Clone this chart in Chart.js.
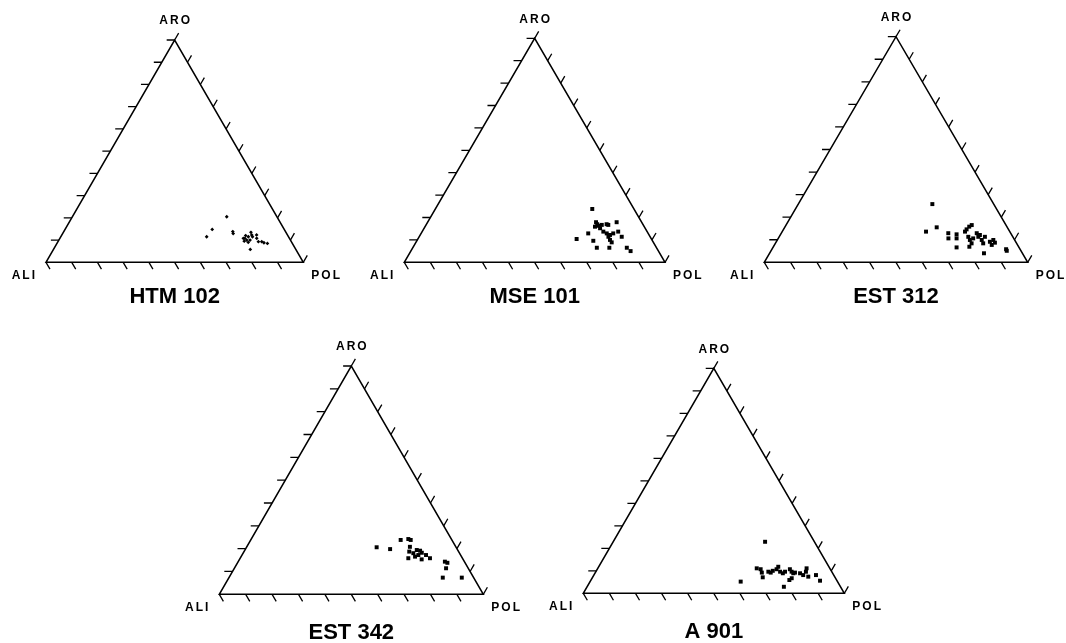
<!DOCTYPE html>
<html>
<head>
<meta charset="utf-8">
<script src="https://cdn.jsdelivr.net/npm/chart.js@4/dist/chart.umd.min.js"></script>
<style>
  html, body { margin: 0; padding: 0; background: #fff; width: 1066px; height: 643px; overflow: hidden; }
  body { position: relative; }
  canvas { position: absolute; }
</style>
</head>
<body>
<script>
// Oil fraction composition (%) of each sample: aromatics (ARO) and polars (POL).
// Aliphatics (ALI) make up the remainder: ALI = 100 - ARO - POL.
const SAMPLES = ['HTM 102', 'MSE 101', 'EST 312', 'EST 342', 'A 901'];
const CORNER_LABELS = ['ALI', 'ARO', 'POL'];
const TICK_VALUES = [0, 10, 20, 30, 40, 50, 60, 70, 80, 90, 100];

const HTM102_ARO = [20.5, 14.8, 11.5, 13.8, 12.9, 13.5, 12.3, 11.5, 10.8, 10.0, 10.0, 9.0, 10.8, 12.3, 10.8, 9.3, 9.3, 8.8, 8.5, 5.8, 9.5, 11.5, 12.0];
const HTM102_POL = [60.0, 57.2, 56.7, 65.7, 66.3, 72.9, 73.8, 72.9, 71.9, 73.0, 74.3, 74.1, 71.3, 75.7, 76.5, 77.9, 79.2, 80.3, 81.8, 76.5, 72.3, 74.5, 71.6];

const MSE101_ARO = [23.8, 17.9, 17.0, 15.9, 16.3, 15.2, 16.7, 17.0, 16.7, 13.7, 12.9, 12.2, 12.9, 11.4, 10.0, 8.9, 17.9, 13.7, 11.4, 12.9, 10.4, 9.6, 6.5, 6.5, 6.5, 5.0];
const MSE101_POL = [60.2, 64.6, 65.5, 65.2, 66.3, 67.5, 67.4, 69.1, 69.9, 69.5, 71.2, 72.8, 73.7, 72.6, 73.9, 75.1, 72.5, 75.2, 77.7, 64.1, 60.9, 67.7, 70.6, 75.4, 82.1, 84.3];

const EST312_ARO = [25.8, 13.6, 15.5, 12.9, 10.6, 12.4, 10.6, 13.6, 14.6, 15.8, 16.5, 11.3, 9.9, 8.4, 10.6, 12.9, 11.3, 12.1, 9.9, 8.4, 11.3, 9.1, 9.9, 8.7, 7.7, 6.6, 6.9, 4.0, 5.8, 5.1];
const EST312_POL = [50.9, 54.6, 57.7, 63.4, 64.6, 66.8, 67.7, 69.4, 69.5, 69.9, 70.5, 71.8, 73.1, 74.5, 74.0, 74.2, 75.6, 75.8, 77.6, 78.9, 78.1, 81.1, 82.0, 83.2, 82.5, 69.7, 74.4, 81.4, 88.9, 89.5];

const EST342_ARO = [20.6, 19.8, 23.8, 24.2, 23.8, 20.8, 18.7, 18.0, 19.4, 19.1, 18.2, 17.2, 16.5, 15.8, 15.3, 17.2, 15.8, 14.3, 13.8, 11.4, 7.3, 7.3];
const EST342_POL = [49.3, 54.8, 56.8, 59.5, 60.6, 61.8, 62.6, 64.5, 65.1, 66.5, 67.6, 66.8, 65.9, 63.7, 69.0, 69.7, 71.9, 78.3, 79.5, 80.2, 81.0, 88.2];

const A901_ARO = [22.9, 11.1, 10.7, 9.2, 7.1, 9.6, 9.2, 10.0, 10.7, 11.8, 9.6, 8.9, 9.6, 10.7, 9.6, 8.9, 6.7, 5.9, 9.2, 8.9, 8.1, 11.1, 9.6, 7.4, 8.1, 5.6, 5.2, 2.9];
const A901_POL = [58.2, 60.9, 62.6, 63.8, 65.2, 66.1, 67.2, 67.6, 68.7, 68.8, 70.6, 72.0, 72.5, 73.8, 75.0, 76.0, 76.5, 76.0, 76.5, 78.6, 80.2, 80.0, 80.5, 82.5, 85.1, 87.9, 57.7, 75.4];

const SAMPLE_ARO = [HTM102_ARO, MSE101_ARO, EST312_ARO, EST342_ARO, A901_ARO];
const SAMPLE_POL = [HTM102_POL, MSE101_POL, EST312_POL, EST342_POL, A901_POL];

// Page placement of each triangle: ALI corner x, base line y, side length, height, title offset below base
const PANELS = [
  { left: 46.0,  base: 262.3, width: 257.3, height: 222.3, titleGap: 35 },
  { left: 404.3, base: 262.3, width: 260.7, height: 224.0, titleGap: 35 },
  { left: 764.3, base: 262.3, width: 263.4, height: 225.6, titleGap: 35 },
  { left: 219.3, base: 594.3, width: 264.0, height: 228.3, titleGap: 39 },
  { left: 583.3, base: 593.3, width: 261.0, height: 225.0, titleGap: 39 }
];

const SIN60 = Math.sqrt(3) / 2;
const TICK_LEN = 3.1;           // tick length in composition units
const FONT = '"Liberation Sans", Arial, Helvetica, sans-serif';

// Barycentric (ARO, POL) -> plane coordinates, with ALI at the origin and POL at x = 100
function ternary(aro, pol) {
  return { x: pol + aro / 2, y: aro * SIN60 };
}

function frameData() {
  const a = ternary(0, 0), b = ternary(0, 100), c = ternary(100, 0);
  return [a, b, c, a, b];
}

function tickData() {
  const pts = [];
  const gap = { x: NaN, y: NaN };
  TICK_VALUES.filter(v => v < 100).forEach(v => {   // ALI-POL base, ticks parallel to the POL-ARO side
    const s = ternary(0, v);
    pts.push(s, { x: s.x + TICK_LEN * 0.5, y: s.y - TICK_LEN * SIN60 }, gap);
  });
  TICK_VALUES.filter(v => v > 0).forEach(v => {     // ALI-ARO side, horizontal ticks
    const s = ternary(v, 0);
    pts.push(s, { x: s.x - TICK_LEN, y: s.y }, gap);
  });
  TICK_VALUES.forEach(v => {                         // POL-ARO side, ticks parallel to the ALI-ARO side
    const s = ternary(v, 100 - v);
    pts.push(s, { x: s.x + TICK_LEN * 0.5, y: s.y + TICK_LEN * SIN60 }, gap);
  });
  return pts;
}

const labelPlugin = {
  id: 'ternaryLabels',
  afterDraw(chart, args, opts) {
    const { ctx, scales: { x, y } } = chart;
    const x0 = x.getPixelForValue(0), x50 = x.getPixelForValue(50), x100 = x.getPixelForValue(100);
    const yb = y.getPixelForValue(0), yt = y.getPixelForValue(100 * SIN60);
    ctx.save();
    ctx.fillStyle = '#000';
    ctx.textBaseline = 'middle';
    ctx.font = 'bold 12px ' + FONT;
    ctx.letterSpacing = '2px';
    ctx.textAlign = 'right';
    ctx.fillText(CORNER_LABELS[0], x0 - 9, yb + 13);
    ctx.textAlign = 'center';
    ctx.fillText(CORNER_LABELS[1], x50 + 1, yt - 19);
    ctx.textAlign = 'left';
    ctx.fillText(CORNER_LABELS[2], x100 + 8, yb + 13);
    ctx.letterSpacing = '0px';
    ctx.font = 'bold 22px ' + FONT;
    ctx.textAlign = 'center';
    ctx.fillText(opts.title, x50, yb + opts.titleGap);
    ctx.restore();
  }
};

SAMPLES.forEach((name, i) => {
  const p = PANELS[i];
  const padL = 60, padT = 40, padB = 60, padR = 60;
  const cLeft = Math.floor(p.left - padL);
  const cTop = Math.floor(p.base - p.height - padT);
  const cW = Math.ceil(p.width + padL + padR);
  const cH = Math.ceil(p.height + padT + padB);
  const canvas = document.createElement('canvas');
  canvas.width = cW; canvas.height = cH;
  canvas.style.left = cLeft + 'px'; canvas.style.top = cTop + 'px';
  canvas.style.width = cW + 'px'; canvas.style.height = cH + 'px';
  document.body.appendChild(canvas);

  const padding = {
    left: p.left - cLeft,
    top: (p.base - p.height) - cTop,
    right: cW - (p.left - cLeft) - p.width,
    bottom: cH - (p.base - cTop)
  };

  const points = SAMPLE_ARO[i].map((a, k) => ternary(a, SAMPLE_POL[i][k]));
  const small = i === 0;

  new Chart(canvas, {
    type: 'scatter',
    data: {
      datasets: [
        {
          data: points,
          pointStyle: small ? 'rectRot' : 'rect',
          pointRadius: small ? 1.9 : 2.8,
          backgroundColor: '#000',
          borderWidth: 0,
          clip: false
        },
        {
          data: frameData(),
          showLine: true,
          borderColor: '#000',
          borderWidth: 1.5,
          pointRadius: 0,
          borderJoinStyle: 'miter',
          clip: false
        },
        {
          data: tickData(),
          showLine: true,
          spanGaps: false,
          borderColor: '#000',
          borderWidth: 1.3,
          pointRadius: 0,
          clip: false
        }
      ]
    },
    options: {
      responsive: false,
      animation: false,
      events: [],
      devicePixelRatio: 1,
      layout: { padding },
      plugins: {
        legend: { display: false },
        tooltip: { enabled: false },
        ternaryLabels: { title: name, titleGap: p.titleGap }
      },
      scales: {
        x: { type: 'linear', min: 0, max: 100, display: false },
        y: { type: 'linear', min: 0, max: 100 * SIN60, display: false }
      }
    },
    plugins: [labelPlugin]
  });
});
</script>
</body>
</html>
